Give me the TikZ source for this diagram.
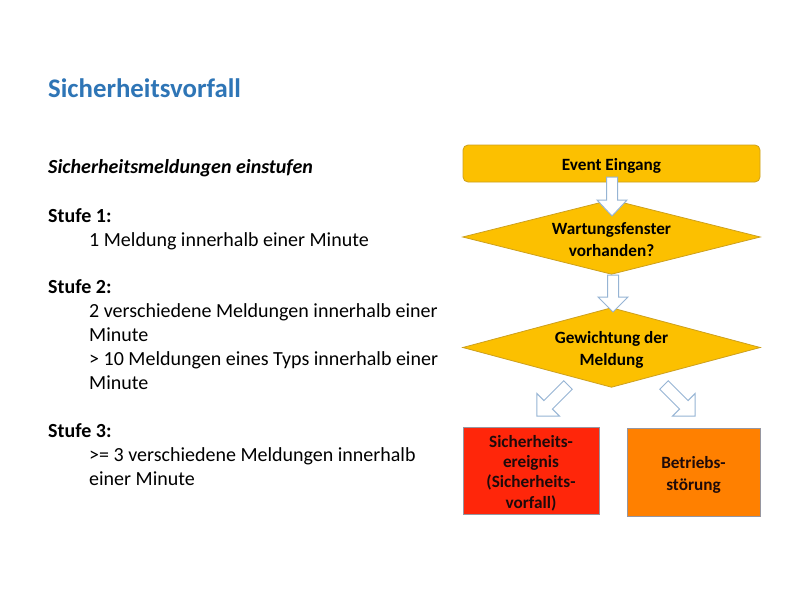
\documentclass[tikz,border=0pt]{standalone}
\usepackage{fontspec}
\setmainfont{Carlito}
\definecolor{titleblue}{RGB}{46,117,182}
\definecolor{gold}{RGB}{252,192,0}
\definecolor{goldline}{RGB}{205,160,30}
\definecolor{redbox}{RGB}{255,38,10}
\definecolor{orangebox}{RGB}{255,128,0}
\definecolor{boxline}{RGB}{150,150,160}
\definecolor{arrowline}{RGB}{150,180,212}
\definecolor{darktext}{RGB}{30,10,10}
\newcommand{\myblockarrow}[7]{% x, y, angle, length, shaft half, head half, head length
  \begin{scope}[shift={(#1,#2)},rotate=#3]
    \draw[arrowst] (0,-#5) -- ({#4-#7},-#5) -- ({#4-#7},-#6) -- (#4,0) -- ({#4-#7},#6) -- ({#4-#7},#5) -- (0,#5) -- cycle;
  \end{scope}}
\begin{document}
\begin{tikzpicture}[x=1pt,y=-1pt,
  bodytext/.style={anchor=base west,inner sep=0pt,font=\fontsize{20}{24}\selectfont},
  evbox/.style={draw=goldline,fill=gold,line width=0.8pt,rounded corners=5pt,minimum width=297pt,minimum height=37pt,inner sep=0pt},
  diabox/.style={inner sep=0pt,minimum width=297pt},
  diafill/.style={draw=goldline,fill=gold,line width=0.8pt},
  boxtext/.style={inner sep=0pt,align=center,yshift=-2.5pt,font=\fontsize{17.2}{22}\selectfont\bfseries},
  resbox/.style={draw=boxline,line width=0.8pt,inner sep=0pt},
  arrowst/.style={draw=arrowline,fill=white,line width=1pt,line join=miter}]
\fill[white] (0,0) rectangle (800,600);
\useasboundingbox (0,0) rectangle (800,600);

% left text
\node[anchor=base west,inner sep=0pt,text=titleblue,font=\fontsize{26.8}{32}\selectfont\bfseries] (title) at (48,97) {Sicherheitsvorfall};
\node[bodytext,font=\fontsize{20}{24}\selectfont\bfseries\itshape] (sub) at (48,173) {Sicherheitsmeldungen einstufen};
\node[bodytext,font=\fontsize{20}{24}\selectfont\bfseries] (s1) at (48,222) {Stufe 1:};
\node[bodytext] (s1a) at (89,246) {1 Meldung innerhalb einer Minute};
\node[bodytext,font=\fontsize{20}{24}\selectfont\bfseries] (s2) at (48,293) {Stufe 2:};
\node[bodytext] (s2a) at (89,317) {2 verschiedene Meldungen innerhalb einer};
\node[bodytext] (s2b) at (89,341) {Minute};
\node[bodytext] (s2c) at (89,365) {> 10 Meldungen eines Typs innerhalb einer};
\node[bodytext] (s2d) at (89,389) {Minute};
\node[bodytext,font=\fontsize{20}{24}\selectfont\bfseries] (s3) at (48,437) {Stufe 3:};
\node[bodytext] (s3a) at (89,461) {>= 3 verschiedene Meldungen innerhalb};
\node[bodytext] (s3b) at (89,485) {einer Minute};

% flowchart
\node[evbox] (ev) at (611.5,163.5) {};
\node[boxtext] (evt) at (ev) {Event Eingang};
\node[diabox,minimum height=74pt] (d1) at (611.5,237) {};
\draw[diafill] (d1.north) -- (d1.east) -- (d1.south) -- (d1.west) -- cycle;
\node[boxtext] (d1t) at (d1) {Wartungsfenster\\vorhanden?};
\node[diabox,minimum height=79pt] (d2) at (611.5,347.5) {};
\draw[diafill] (d2.north) -- (d2.east) -- (d2.south) -- (d2.west) -- cycle;
\node[boxtext] (d2t) at (d2) {Gewichtung der\\Meldung};
\node[resbox,fill=redbox,minimum width=136pt,minimum height=87pt] (sec) at (531,470.5) {};
\node[boxtext,text=darktext,font=\fontsize{17.2}{20.3}\selectfont\bfseries] (sect) at (sec) {Sicherheits-\\ereignis\\(Sicherheits-\\vorfall)};
\node[resbox,fill=orangebox,minimum width=133pt,minimum height=88pt] (bs) at (693.5,472) {};
\node[boxtext,text=darktext] (bst) at (bs) {Betriebs-\\störung};

% block arrows
\myblockarrow{612}{177}{-90}{39}{5.5}{15}{16}
\myblockarrow{613}{275}{-90}{37}{5.5}{15}{15}
\myblockarrow{568}{385}{-135}{44}{6}{16}{16}
\myblockarrow{664}{385}{-45}{44}{6}{16}{16}
\end{tikzpicture}
\end{document}
